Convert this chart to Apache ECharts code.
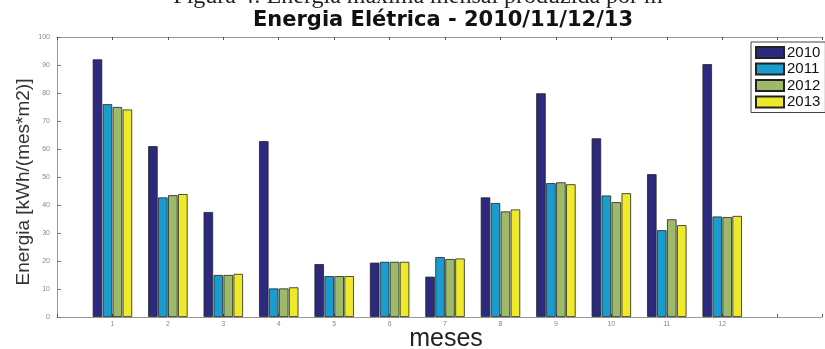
<!DOCTYPE html>
<html>
<head>
<meta charset="utf-8">
<script src="https://cdn.jsdelivr.net/npm/echarts@6/dist/echarts.min.js"></script>
<style>
html,body{margin:0;padding:0;background:#fff;}
#chart{width:825px;height:349px;}
</style>
</head>
<body>
<div id="chart"></div>
<script>
const months = [1,2,3,4,5,6,7,8,9,10,11,12];
const seriesNames = ['2010','2011','2012','2013'];
const v2010 = [92.0, 61.0, 37.5, 62.8, 18.9, 19.4, 14.4, 42.7, 79.9, 63.8, 51.0, 90.3];
const v2011 = [76.0, 42.7, 15.0, 10.2, 14.6, 19.7, 21.4, 40.7, 47.8, 43.4, 31.0, 35.9];
const v2012 = [75.0, 43.5, 15.0, 10.2, 14.6, 19.7, 20.7, 37.7, 48.1, 41.0, 34.9, 35.7];
const v2013 = [74.1, 43.9, 15.4, 10.6, 14.6, 19.7, 20.9, 38.4, 47.4, 44.2, 32.8, 36.1];
const yTicks = [0,10,20,30,40,50,60,70,80,90,100];

const colors = ['#2c2a7e','#1a9ccf','#9cba6a','#eeea2a'];
const allValues = [v2010, v2011, v2012, v2013];

const chart = echarts.init(document.getElementById('chart'), null, {renderer:'canvas'});

const series = seriesNames.map((name, i) => ({
  name: name,
  type: 'bar',
  xAxisIndex: 0,
  yAxisIndex: 0,
  barWidth: 9.5,
  barGap: '5%',
  data: months.map((m, k) => [m, allValues[i][k]]),
  itemStyle: { color: colors[i], borderColor: '#222', borderWidth: 0.8 },
  emphasis: { disabled: true }
}));

const xCommon = {
  type: 'value', min: 0, max: 13.8, interval: 1,
  splitLine: { show: false },
  axisLine: { show: true, lineStyle: { color: '#999', width: 1 } },
  axisTick: { show: true, inside: true, length: 3, lineStyle: { color: '#555' } }
};

chart.setOption({
  animation: false,
  backgroundColor: '#fff',
  grid: { left: 57, right: 0, top: 37, bottom: 32, containLabel: false },
  legend: {
    data: seriesNames,
    orient: 'vertical',
    left: 751, top: 42,
    itemWidth: 28, itemHeight: 11, itemGap: 1.5,
    padding: [3, 5, 3, 4],
    icon: 'rect',
    borderColor: '#444', borderWidth: 1, backgroundColor: '#fff',
    textStyle: { fontFamily: 'Liberation Sans', fontSize: 15, color: '#111', lineHeight: 14, padding: [0,0,0,-2] }
  },
  xAxis: [
    Object.assign({}, xCommon, {
      position: 'bottom',
      axisLabel: {
        show: true, fontSize: 7, color: '#888', margin: 4, fontFamily: 'Liberation Sans',
        formatter: v => (v >= 1 && v <= 12) ? String(v) : ''
      }
    }),
    Object.assign({}, xCommon, {
      position: 'top',
      axisLabel: { show: false }
    })
  ],
  yAxis: {
    type: 'value', min: 0, max: 100, interval: 10,
    splitLine: { show: false },
    axisLine: { show: true, lineStyle: { color: '#999', width: 1 } },
    axisTick: { show: true, inside: true, length: 4, lineStyle: { color: '#777' } },
    axisLabel: {
      fontSize: 7, color: '#888', margin: 7, fontFamily: 'Liberation Sans',
      formatter: v => yTicks.includes(v) ? String(v) : ''
    }
  },
  graphic: [
    { type: 'text', x: 418, y: -3, style: { text: 'Figura 4: Energia máxima mensal produzida por m', font: '24px "Liberation Serif"', fill: '#222', textAlign: 'center', textVerticalAlign: 'middle' } },
    { type: 'text', x: 443, y: 21, style: { text: 'Energia Elétrica - 2010/11/12/13', font: 'bold 21px "DejaVu Sans"', fill: '#111', textAlign: 'center', textVerticalAlign: 'middle' } },
    { type: 'text', x: 446, y: 339, style: { text: 'meses', font: '25px "Liberation Sans"', fill: '#222', textAlign: 'center', textVerticalAlign: 'middle' } },
    { type: 'text', x: 24, y: 182, rotation: Math.PI / 2, style: { text: 'Energia [kWh/(mes*m2)]', font: '19px "Liberation Sans"', fill: '#333', textAlign: 'center', textVerticalAlign: 'middle' } }
  ],
  series: series
});
</script>
</body>
</html>
